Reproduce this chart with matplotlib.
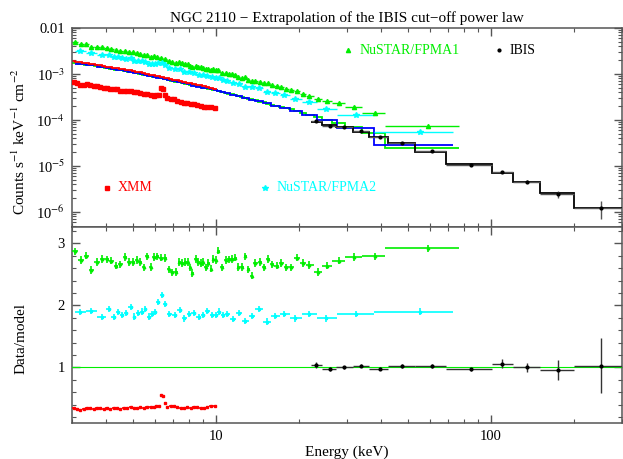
import numpy as np
import matplotlib
matplotlib.use("Agg")
import matplotlib.pyplot as plt
from matplotlib.ticker import FixedLocator, FixedFormatter, LogLocator, MultipleLocator, NullFormatter

plt.rcParams['font.family'] = ['Liberation Serif', 'DejaVu Serif']
plt.rcParams['mathtext.fontset'] = 'stix'

# ---------------- data ----------------
# XMM (red)
xmm_energy = [3.04, 3.13, 3.22, 3.31, 3.40, 3.50, 3.60, 3.70, 3.80, 3.91, 4.02, 4.14, 4.25, 4.37, 4.50,
              4.63, 4.76, 4.90, 5.03, 5.18, 5.32, 5.47, 5.63, 5.79, 5.95, 6.07, 6.21, 6.30, 6.41, 6.53,
              6.66, 6.85, 7.04, 7.24, 7.45, 7.66, 7.88, 8.11, 8.33, 8.57, 8.82, 9.06, 9.32, 9.59, 9.92]
xmm_ratio = [0.347, 0.336, 0.320, 0.336, 0.347, 0.347, 0.336, 0.347, 0.341, 0.331, 0.341, 0.331, 0.341, 0.347, 0.336,
             0.341, 0.352, 0.363, 0.352, 0.352, 0.363, 0.352, 0.363, 0.357, 0.363, 0.373, 0.384, 0.561, 0.545, 0.428,
             0.363, 0.373, 0.384, 0.363, 0.352, 0.352, 0.363, 0.352, 0.363, 0.363, 0.352, 0.352, 0.363, 0.373, 0.384]
xmm_model = [1.907e-3, 1.856e-3, 1.805e-3, 1.757e-3, 1.710e-3, 1.663e-3, 1.619e-3, 1.576e-3, 1.532e-3, 1.492e-3,
             1.452e-3, 1.412e-3, 1.374e-3, 1.338e-3, 1.301e-3, 1.267e-3, 1.233e-3, 1.199e-3, 1.165e-3, 1.124e-3,
             1.083e-3, 1.044e-3, 1.007e-3, 9.71e-4, 9.37e-4, 9.13e-4, 8.87e-4, 8.70e-4, 8.51e-4, 8.30e-4,
             8.10e-4, 7.80e-4, 7.53e-4, 7.26e-4, 6.99e-4, 6.75e-4, 6.51e-4, 6.27e-4, 6.05e-4, 5.83e-4,
             5.62e-4, 5.42e-4, 5.23e-4, 5.04e-4, 4.82e-4]
xmm_err = 0.008

# NuSTAR FPMA1 (green)
fpma1_energy = [3.07, 3.23, 3.38, 3.53, 3.71, 3.86, 4.01, 4.17, 4.34, 4.50, 4.67, 4.83, 4.99, 5.15, 5.32,
                5.47, 5.61, 5.79, 5.97, 6.11, 6.30, 6.53, 6.75, 6.91, 7.18, 7.35, 7.55, 7.73, 7.90, 8.08,
                8.21, 8.45, 8.64, 8.82, 8.99, 9.20, 9.40, 9.59, 9.77, 10.0, 10.19, 10.52, 10.88, 11.18, 11.44,
                11.76, 12.09, 12.44, 12.79, 13.15, 13.49, 13.91, 14.47, 14.92, 15.43, 16.01, 16.64, 17.27, 18.01,
                18.78, 19.69, 20.71, 21.90, 23.49, 25.33, 27.95, 31.70, 37.83, 59.0]
fpma1_ratio = [2.87, 2.73, 2.80, 2.57, 2.70, 2.75, 2.74, 2.72, 2.64, 2.66, 2.78, 2.70, 2.70, 2.73, 2.70,
               2.61, 2.79, 2.62, 2.78, 2.79, 2.77, 2.76, 2.58, 2.53, 2.54, 2.70, 2.68, 2.70, 2.70, 2.61,
               2.52, 2.75, 2.70, 2.68, 2.70, 2.61, 2.68, 2.59, 2.75, 2.73, 2.88, 2.61, 2.73, 2.74, 2.75,
               2.77, 2.62, 2.62, 2.79, 2.58, 2.48, 2.68, 2.70, 2.61, 2.75, 2.66, 2.64, 2.68, 2.61,
               2.61, 2.77, 2.68, 2.65, 2.54, 2.64, 2.72, 2.78, 2.79, 2.92]
fpma1_model = [1.754e-3, 1.663e-3, 1.592e-3, 1.531e-3, 1.457e-3, 1.403e-3, 1.349e-3, 1.298e-3, 1.250e-3,
               1.205e-3, 1.164e-3, 1.127e-3, 1.091e-3, 1.048e-3, 1.004e-3, 9.69e-4, 9.38e-4, 9.00e-4,
               8.65e-4, 8.40e-4, 8.07e-4, 7.69e-4, 7.36e-4, 7.15e-4, 6.80e-4, 6.60e-4, 6.37e-4, 6.18e-4,
               6.01e-4, 5.84e-4, 5.71e-4, 5.51e-4, 5.35e-4, 5.21e-4, 5.08e-4, 4.93e-4, 4.80e-4, 4.67e-4,
               4.56e-4, 4.43e-4, 4.30e-4, 4.10e-4, 3.89e-4, 3.73e-4, 3.60e-4, 3.45e-4, 3.31e-4, 3.17e-4,
               3.04e-4, 2.91e-4, 2.80e-4, 2.67e-4, 2.51e-4, 2.40e-4, 2.28e-4, 2.15e-4, 2.03e-4, 1.92e-4,
               1.80e-4, 1.69e-4, 1.55e-4, 1.40e-4, 1.26e-4, 1.14e-4, 1.00e-4, 8.5e-5, 7.0e-5, 5.15e-5, 2.5e-5]
fpma1_tail_edges = [26.5, 29.4, 33.9, 41.4, 76.6]
fpma1_err = 0.06

# NuSTAR FPMA2 (cyan)
fpma2_energy = [3.22, 3.53, 3.86, 4.10, 4.25, 4.41, 4.56, 4.72, 4.90, 5.06, 5.22, 5.37, 5.55, 5.71, 5.84,
                6.00, 6.17, 6.35, 6.51, 6.75, 7.09, 7.41, 7.68, 7.99, 8.33, 8.69, 9.01, 9.32, 9.67, 10.0,
                10.28, 10.63, 11.02, 11.59, 12.16, 12.79, 13.53, 14.31, 15.35, 16.46, 17.76, 19.48, 21.78,
                25.21, 32.43, 55.5]
fpma2_ratio = [1.89, 1.91, 1.81, 1.94, 1.81, 1.89, 1.85, 1.88, 1.97, 1.82, 1.88, 1.90, 1.94, 1.82, 1.86,
               1.89, 2.05, 2.17, 2.02, 1.86, 1.85, 1.92, 1.79, 1.86, 1.88, 1.81, 1.85, 1.91, 1.85, 1.85,
               1.90, 1.85, 1.86, 1.78, 1.88, 1.75, 1.83, 1.94, 1.74, 1.83, 1.86, 1.79, 1.86, 1.79, 1.86, 1.90]
fpma2_model = [1.675e-3, 1.531e-3, 1.403e-3, 1.321e-3, 1.274e-3, 1.230e-3, 1.191e-3, 1.153e-3, 1.112e-3,
               1.072e-3, 1.030e-3, 9.93e-4, 9.51e-4, 9.17e-4, 8.90e-4, 8.59e-4, 8.28e-4, 7.98e-4, 7.72e-4,
               7.36e-4, 6.92e-4, 6.53e-4, 6.23e-4, 5.92e-4, 5.61e-4, 5.31e-4, 5.07e-4, 4.85e-4, 4.62e-4,
               4.43e-4, 4.25e-4, 4.03e-4, 3.81e-4, 3.53e-4, 3.28e-4, 3.04e-4, 2.78e-4, 2.56e-4, 2.30e-4,
               2.06e-4, 1.84e-4, 1.60e-4, 1.30e-4, 9.8e-5, 6.8e-5, 2.86e-5]
fpma2_tail_edges = [23.4, 27.5, 37.5, 72.8]
fpma2_err = 0.05

# IBIS (black)
ibis_edges = [22.2, 24.4, 27.3, 31.5, 36.2, 42.2, 52.9, 69.0, 100.9, 120.9, 151.3, 201.0, 300.0]
ibis_energy = [23.1, 26.0, 29.3, 33.6, 39.4, 47.7, 61.3, 85.0, 110.0, 135.6, 176.0, 251.0]
ibis_model = [9.18e-5, 7.78e-5, 6.93e-5, 5.57e-5, 4.34e-5, 3.11e-5, 2.05e-5, 1.10e-5, 6.93e-6, 4.56e-6,
              2.55e-6, 1.2e-6]
ibis_ratio = [1.04, 0.97, 1.00, 1.03, 0.98, 1.02, 1.02, 0.97, 1.06, 1.00, 0.96, 1.03]
ibis_ratio_err = [0.05, 0.03, 0.03, 0.02, 0.02, 0.03, 0.03, 0.02, 0.07, 0.08, 0.16, 0.44]

top_yticks = [1e-6, 1e-5, 1e-4, 1e-3, 1e-2]
top_yticklabels = ['10$^{-6}$', '10$^{-5}$', '10$^{-4}$', '10$^{-3}$', '0.01']
bot_yticks = [1, 2, 3]
xticks = [10, 100]

# ---------------- helpers ----------------
def edges_from(centres, tail=()):
    c = np.asarray(centres, float)
    mid = np.sqrt(c[:-1] * c[1:])
    e = np.concatenate([[c[0] ** 2 / mid[0]], mid, [c[-1] ** 2 / mid[-1]]])
    if len(tail):
        e[-len(tail):] = tail
    return e

RED, GREEN, CYAN, BLUE, BLACK = '#ff0000', '#00ee00', '#00ffff', '#0000ff', '#000000'

W, H = 623, 459
fig = plt.figure(figsize=(W / 100, H / 100), dpi=100)
left, right = 72 / W, 622 / W
ax1 = fig.add_axes([left, 1 - 227 / H, right - left, 199 / H])
ax2 = fig.add_axes([left, 1 - 423 / H, right - left, 196 / H], sharex=ax1)

datasets = [
    (fpma1_energy, fpma1_ratio, fpma1_model, fpma1_tail_edges, fpma1_err, GREEN, GREEN, '^', 3.0, 2),
    (fpma2_energy, fpma2_ratio, fpma2_model, fpma2_tail_edges, fpma2_err, CYAN, BLUE, '*', 4.0, 2.2),
    (xmm_energy, xmm_ratio, xmm_model, None, xmm_err, RED, RED, 's', 2.4, 2.4),
]

for energy, ratio, model, tail, err, col, mcol, mk, ms, zm in datasets:
    e = np.asarray(energy, float)
    r = np.asarray(ratio, float)
    m = np.asarray(model, float)
    ed = edges_from(e, tail if tail is not None else ())
    xerr = [e - ed[:-1], ed[1:] - e]
    data = m * r
    ax1.stairs(m, ed, color=mcol, lw=1.3, zorder=zm, baseline=None)
    ax1.errorbar(e, data, xerr=xerr, yerr=data * err / r, fmt=mk, ms=ms, color=col,
                 ecolor=col, elinewidth=1.0, capsize=0, zorder=3)
    ax2.errorbar(e, r, xerr=xerr, yerr=err, fmt=mk, ms=ms * 0.6, color=col,
                 ecolor=col, elinewidth=1.2, capsize=0, zorder=3)

ie = np.asarray(ibis_energy)
ied = np.asarray(ibis_edges)
im = np.asarray(ibis_model)
ir = np.asarray(ibis_ratio)
irr = np.asarray(ibis_ratio_err)
ixerr = [ie - ied[:-1], ied[1:] - ie]
ax1.stairs(im, ied, color=BLACK, lw=1.3, zorder=4, baseline=None)
ax1.errorbar(ie, im * ir, xerr=ixerr, yerr=im * irr, fmt='o', ms=2, color=BLACK,
             ecolor='#555555', elinewidth=1.0, capsize=0, zorder=5)
ax2.errorbar(ie, ir, xerr=ixerr, yerr=irr, fmt='o', ms=2, color=BLACK,
             ecolor='#333333', elinewidth=1.0, capsize=0, zorder=5)
ax2.axhline(1.0, color=GREEN, lw=0.8, zorder=4)

# ---------------- axes styling ----------------
for ax in (ax1, ax2):
    ax.set_xscale('log')
    ax.set_xlim(3, 300)
    for s in ax.spines.values():
        s.set_color('#555555')
        s.set_linewidth(1.1)
    ax.tick_params(which='both', direction='in', top=True, right=True, color='#555555',
                   labelsize=10.5, pad=5)
    ax.tick_params(which='major', length=6, width=1.0)
    ax.tick_params(which='minor', length=3, width=0.8)
    ax.xaxis.set_minor_locator(LogLocator(base=10, subs=np.arange(2, 10)))
    ax.xaxis.set_minor_formatter(NullFormatter())

ax1.set_yscale('log')
ax1.set_ylim(4.7e-7, 1e-2)
ax1.yaxis.set_major_locator(FixedLocator(top_yticks))
ax1.yaxis.set_major_formatter(FixedFormatter(top_yticklabels))
ax1.yaxis.set_minor_locator(LogLocator(base=10, subs=np.arange(2, 10)))
ax1.yaxis.set_minor_formatter(NullFormatter())
ax1.tick_params(axis='x', labelbottom=False)

ax2.set_ylim(0.106, 3.262)
ax2.yaxis.set_major_locator(FixedLocator(bot_yticks))
ax2.yaxis.set_major_formatter(FixedFormatter([str(t) for t in bot_yticks]))
ax2.yaxis.set_minor_locator(MultipleLocator(0.2))
ax2.xaxis.set_major_locator(FixedLocator(xticks))
ax2.xaxis.set_major_formatter(FixedFormatter([str(t) for t in xticks]))

ax1.set_title('NGC 2110 \u2212 Extrapolation of the IBIS cut\u2212off power law', fontsize=11, pad=4)
ax1.set_ylabel('Counts s$^{-1}$ keV$^{-1}$ cm$^{-2}$', fontsize=11)
ax2.set_ylabel('Data/model', fontsize=11)
ax2.set_xlabel('Energy (keV)', fontsize=11, labelpad=2)
ax1.yaxis.set_label_coords(-0.080, 0.43)
ax2.yaxis.set_label_coords(-0.080, 0.43)

# legend-like labels
lab = [(0.0636, 0.196, 's', 2.4, RED, 'XMM'),
       (0.351, 0.196, '*', 4.0, CYAN, 'NuSTAR/FPMA2'),
       (0.502, 0.889, '^', 3.0, GREEN, 'NuSTAR/FPMA1'),
       (0.776, 0.889, 'o', 2.0, BLACK, 'IBIS')]
for x, y, mk, ms, col, txt in lab:
    ax1.plot([x], [y], marker=mk, ms=ms, color=col, transform=ax1.transAxes, ls='none')
    ax1.text(x + 0.02, y, txt, color=col, transform=ax1.transAxes, fontsize=10, va='center', ha='left')

fig.savefig('out.png', dpi=100)
